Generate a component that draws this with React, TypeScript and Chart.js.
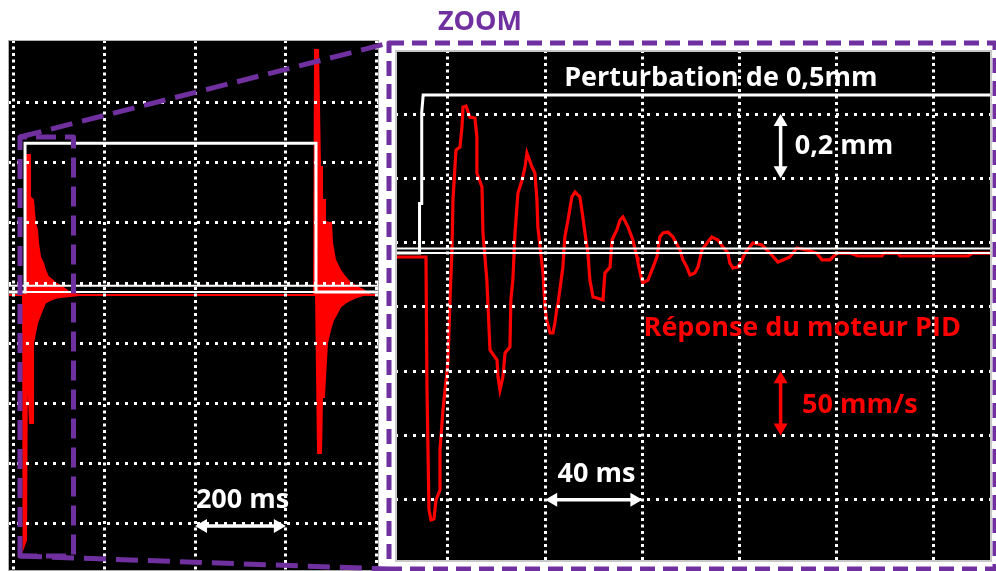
import React, { useEffect, useRef } from "react";
import { Chart, registerables } from "chart.js";
Chart.register(...registerables);

// ================= Full view (left panel) =================
// time in ms, white trace = position (mm, 0.2 mm/div), red trace = speed (mm/s, 50 mm/s/div)
const fullGridT = [0, 200, 400, 600, 800];
const fullGridMm = [-0.8, -0.6, -0.4, -0.2, 0, 0.2, 0.4, 0.6];
const fullRefMm = [-0.0093, -0.0299];
const fullRedBase = -10;
const fullWhiteT = [-11.7, 25.8, 25.8, 666.3, 666.3, 805];
const fullWhiteMm = [-0.0299, -0.0299, 0.464, 0.464, -0.0299, -0.0299];
const fullRedUpT = [-11.7, 25.8, 26.9, 36.8, 36.8, 43.4, 47.8, 52.2, 54.4, 58.8, 65.4, 69.8, 76.4, 85.2, 91.8, 107.2, 124.8, 146.8, 662.0, 664.2, 670.8, 675.2, 679.6, 679.6, 686.2, 686.2, 699.4, 701.6, 708.2, 719.2, 730.2, 741.2, 756.6, 769.8, 785.2, 805];
const fullRedUpV = [-10, -10, 106.3, 106.3, 71.4, 68.9, 49.8, 44.0, 33.2, 21.6, 16.6, 10.8, 5.0, 2.5, 0, -3.3, -8.3, -10, -10, 193.5, 193.5, 96.3, 96.3, 68.9, 68.9, 50.7, 49.8, 33.2, 19.1, 10.8, 5.0, 0, -3.3, -5.8, -10, -10];
const fullRedLowT = [-11.7, 21.4, 22.5, 28.0, 30.2, 36.8, 43.4, 43.4, 52.2, 63.2, 69.8, 80.8, 91.8, 102.8, 124.8, 146.8, 666.4, 670.8, 677.4, 679.6, 684.0, 686.2, 690.6, 697.2, 703.8, 712.6, 719.2, 730.2, 741.2, 756.6, 769.8, 805];
const fullRedLowV = [-10, -10, -219.3, -213.5, -55.7, -116.3, -116.3, -49.8, -33.2, -22.4, -16.6, -14.1, -12.5, -11.6, -10.8, -10, -10, -141.2, -141.2, -94.7, -94.7, -78.1, -49.8, -39.0, -30.7, -24.9, -19.9, -16.6, -14.1, -11.6, -10, -10];

// ================= Zoom (right panel) =================
const zoomGridT = [0, 40, 80, 120, 160, 200];
const zoomGridMm = [-0.8, -0.6, -0.4, -0.2, 0, 0.2, 0.4];
const zoomRefMm = [-0.0184, -0.0323];
const zoomWhiteT = [-21.8, -11.7, -11.7, -10.8, -10.8, -10.2, 223.9];
const zoomWhiteMm = [-0.0323, -0.0323, 0.122, 0.122, 0.406, 0.459, 0.459];
const zoomRedT = [-21.8, -9.05, -8.64, -7.82, -7.0, -5.76, -4.94, -3.29, -3.29, -2.06,
  0, 0.82, 1.65, 2.06, 3.29, 4.94, 5.76, 6.17, 7.41, 9.05,
  11.1, 11.9, 11.9, 14.0, 14.4, 16.0, 16.5, 17.3, 20.2, 20.6,
  21.4, 22.6, 23.5, 25.5, 25.9, 26.7, 27.6, 28.8, 30.5, 31.7,
  32.5, 34.6, 35.8, 36.6, 37.0, 37.9, 39.1, 39.9, 40.7, 42.0,
  43.2, 44.0, 44.9, 45.3, 47.3, 48.1, 49.4, 51.0, 52.3, 54.3,
  55.1, 56.4, 57.6, 58.4, 59.7, 61.3, 63.8, 64.6, 66.7, 67.5,
  69.5, 70.8, 72.0, 74.1, 76.1, 77.8, 78.2, 79.8, 80.2, 82.3,
  84.4, 86.0, 87.2, 88.5, 90.5, 92.6, 95.5, 96.7, 98.3, 99.6,
  101.6, 102.9, 104.5, 106.6, 108.6, 111.1, 113.2, 115.2, 116.0, 117.3,
  119.3, 121.0, 122.2, 125.5, 129.2, 132.5, 135.8, 137.9, 140.7, 143.6,
  147.7, 151.8, 153.9, 157.2, 160.1, 165.4, 168.7, 178.6, 179.4, 185.2,
  186.0, 197.5, 201.2, 214.0, 216.0, 223.9];
const zoomRedV = [-11.2, -11.2, -112.3, -207.9, -215.7, -214.9, -200.2, -192.4, -161.3, -130.2,
  -92.8, -44.6, -5.8, 33.1, 72.0, 74.3, 89.9, 105.4, 106.2, 97.7,
  96.9, 82.1, 54.1, 43.2, 7.5, -29.1, -50.1, -83.5, -91.3, -104.5,
  -114.6, -104.5, -85.8, -81.2, -44.6, -29.1, 7.5, 38.6, 48.7, 58.8,
  69.7, 58.8, 54.1, 33.1, 12.1, -3.4, -23.6, -50.1, -60.6, -70.3,
  -70.3, -62.5, -50.1, -47.0, -19.0, 4.4, 17.6, 35.5, 39.3, 35.5,
  25.3, 7.5, -8.1, -29.1, -42.3, -43.1, -44.6, -23.6, -19.0, 2.0,
  9.8, 17.6, 19.9, 12.1, 2.0, -11.2, -15.9, -29.1, -31.4, -29.1,
  -19.0, -11.2, 4.4, 7.5, 8.2, 4.4, -5.8, -13.5, -19.0, -25.2,
  -23.6, -19.0, -5.8, -0.3, 4.4, 2.0, -3.4, -8.1, -15.9, -19.8,
  -19.0, -13.5, -8.1, -0.3, -1.9, -8.1, -15.1, -13.5, -11.2, -4.2,
  -5.8, -8.1, -13.5, -13.5, -8.1, -8.1, -10.4, -10.4, -8.1, -8.1,
  -10.4, -10.4, -10.4, -10.4, -8.1, -8.1];

const WHITE = "#ffffff";
const RED = "#ff0000";
const PURPLE = "#7030a0";
const FONT = 'bold 27px "Open Sans", "DejaVu Sans", sans-serif';

const pts = (xs: number[], ys: number[]) => xs.map((x, i) => ({ x, y: ys[i] }));

type TextSpec = { text: string; t: number; v: number; axis: "y" | "y2"; color: string };
type ArrowSpec = { t1: number; v1: number; t2: number; v2: number; axis: "y" | "y2"; color: string };

function drawArrow(ctx: CanvasRenderingContext2D, x1: number, y1: number, x2: number, y2: number, color: string) {
  const hl = 12, hw = 14, w = 3.5;
  const dx = x2 - x1, dy = y2 - y1;
  const len = Math.hypot(dx, dy);
  const ux = dx / len, uy = dy / len, px = -uy, py = ux;
  ctx.save();
  ctx.strokeStyle = color;
  ctx.fillStyle = color;
  ctx.lineWidth = w;
  ctx.beginPath();
  ctx.moveTo(x1 + ux * hl * 0.8, y1 + uy * hl * 0.8);
  ctx.lineTo(x2 - ux * hl * 0.8, y2 - uy * hl * 0.8);
  ctx.stroke();
  const heads: [number, number, number][] = [[x1, y1, 1], [x2, y2, -1]];
  for (const [tx, ty, s] of heads) {
    ctx.beginPath();
    ctx.moveTo(tx, ty);
    ctx.lineTo(tx + s * ux * hl + (px * hw) / 2, ty + s * uy * hl + (py * hw) / 2);
    ctx.lineTo(tx + s * ux * hl - (px * hw) / 2, ty + s * uy * hl - (py * hw) / 2);
    ctx.closePath();
    ctx.fill();
  }
  ctx.restore();
}

function decoPlugin(texts: TextSpec[], arrows: ArrowSpec[], borderColor: string, borderWidth: number) {
  return {
    id: "panelDeco",
    beforeDraw(chart: any) {
      const ctx = chart.ctx;
      ctx.save();
      ctx.fillStyle = "#000";
      ctx.fillRect(0, 0, chart.width, chart.height);
      ctx.restore();
    },
    afterDraw(chart: any) {
      const ctx: CanvasRenderingContext2D = chart.ctx;
      const sx = chart.scales.x;
      for (const a of arrows) {
        const sy = chart.scales[a.axis];
        drawArrow(ctx, sx.getPixelForValue(a.t1), sy.getPixelForValue(a.v1), sx.getPixelForValue(a.t2), sy.getPixelForValue(a.v2), a.color);
      }
      ctx.save();
      ctx.font = FONT;
      ctx.textAlign = "center";
      ctx.textBaseline = "alphabetic";
      for (const t of texts) {
        const sy = chart.scales[t.axis];
        ctx.fillStyle = t.color;
        ctx.fillText(t.text, sx.getPixelForValue(t.t), sy.getPixelForValue(t.v));
      }
      ctx.restore();
      ctx.save();
      ctx.strokeStyle = borderColor;
      ctx.lineWidth = borderWidth;
      ctx.strokeRect(borderWidth / 2, borderWidth / 2, chart.width - borderWidth, chart.height - borderWidth);
      ctx.restore();
    },
  };
}

function makePanel(canvas: HTMLCanvasElement, o: {
  xMin: number; xMax: number; mmMin: number; mmMax: number; spMin: number; spMax: number;
  gridT: number[]; gridMm: number[]; datasets: any[]; texts: TextSpec[]; arrows: ArrowSpec[];
  borderColor: string; borderWidth: number;
}) {
  return new Chart(canvas, {
    type: "line",
    data: { datasets: o.datasets },
    options: {
      animation: false,
      responsive: false,
      devicePixelRatio: 1,
      layout: { padding: 0, autoPadding: false },
      events: [],
      elements: { point: { radius: 0 }, line: { tension: 0 } },
      plugins: { legend: { display: false }, tooltip: { enabled: false }, title: { display: false } },
      scales: {
        x: {
          type: "linear", min: o.xMin, max: o.xMax,
          afterBuildTicks: (s: any) => { s.ticks = o.gridT.map((v) => ({ value: v })); },
          ticks: { display: false },
          grid: { color: WHITE, lineWidth: 3, drawTicks: false, z: 1 },
          border: { display: false, dash: [3, 3.5] },
        },
        y: {
          type: "linear", min: o.mmMin, max: o.mmMax,
          afterBuildTicks: (s: any) => { s.ticks = o.gridMm.map((v) => ({ value: v })); },
          ticks: { display: false },
          grid: { color: WHITE, lineWidth: 3, drawTicks: false, z: 1 },
          border: { display: false, dash: [3, 6] },
        },
        y2: { type: "linear", display: false, min: o.spMin, max: o.spMax },
      },
    } as any,
    plugins: [decoPlugin(o.texts, o.arrows, o.borderColor, o.borderWidth)],
  });
}

function drawOverlay(c: HTMLCanvasElement) {
  const ctx = c.getContext("2d")!;
  ctx.clearRect(0, 0, c.width, c.height);
  ctx.save();
  ctx.strokeStyle = PURPLE;
  ctx.lineWidth = 5;
  ctx.lineJoin = "round";
  // zoom frame around the right panel
  ctx.setLineDash([15, 8]);
  ctx.strokeRect(389, 43, 606, 526);
  // zoomed region in the left panel
  ctx.setLineDash([20, 9]);
  ctx.beginPath();
  ctx.moveTo(20, 556);
  ctx.lineTo(20, 137);
  ctx.lineTo(73.5, 137);
  ctx.lineTo(73.5, 556);
  ctx.closePath();
  ctx.stroke();
  // connectors
  ctx.setLineDash([22, 10]);
  ctx.beginPath();
  ctx.moveTo(20, 137);
  ctx.lineTo(389, 43);
  ctx.moveTo(20, 556);
  ctx.lineTo(389, 569);
  ctx.stroke();
  ctx.restore();
  ctx.save();
  ctx.font = FONT;
  ctx.fillStyle = PURPLE;
  ctx.textAlign = "center";
  ctx.textBaseline = "alphabetic";
  ctx.fillText("ZOOM", 480, 29.6);
  ctx.restore();
}

export default function App() {
  const leftRef = useRef<HTMLCanvasElement>(null);
  const rightRef = useRef<HTMLCanvasElement>(null);
  const overRef = useRef<HTMLCanvasElement>(null);

  useEffect(() => {
    const lx = [-11.7, 805];
    const rx = [-21.8, 223.9];
    const left = makePanel(leftRef.current!, {
      xMin: lx[0], xMax: lx[1], mmMin: -0.9568, mmMax: 0.8073, spMin: -239.2, spMax: 201.8,
      gridT: fullGridT, gridMm: fullGridMm,
      datasets: [
        { label: "axe", data: pts(lx, [fullRefMm[0], fullRefMm[0]]), yAxisID: "y", borderColor: WHITE, borderWidth: 2, fill: false },
        { label: "référence", data: pts(lx, [fullRefMm[1], fullRefMm[1]]), yAxisID: "y", borderColor: WHITE, borderWidth: 2, fill: false },
        { label: "Perturbation", data: pts(fullWhiteT, fullWhiteMm), yAxisID: "y", borderColor: WHITE, borderWidth: 3, fill: false },
        { label: "Réponse (enveloppe haute)", data: pts(fullRedUpT, fullRedUpV), yAxisID: "y2", borderColor: RED, backgroundColor: RED, borderWidth: 2, fill: { value: fullRedBase } },
        { label: "Réponse (enveloppe basse)", data: pts(fullRedLowT, fullRedLowV), yAxisID: "y2", borderColor: RED, backgroundColor: RED, borderWidth: 2, fill: { value: fullRedBase } },
      ],
      texts: [{ text: "200 ms", t: 504.6, v: -186.6, axis: "y2", color: WHITE }],
      arrows: [{ t1: 400, v1: -0.807, t2: 600, v2: -0.807, axis: "y", color: WHITE }],
      borderColor: "#b0b0b0", borderWidth: 1,
    });
    const right = makePanel(rightRef.current!, {
      xMin: rx[0], xMax: rx[1], mmMin: -0.9935, mmMax: 0.5991, spMin: -248.4, spMax: 149.8,
      gridT: zoomGridT, gridMm: zoomGridMm,
      datasets: [
        { label: "axe", data: pts(rx, [zoomRefMm[0], zoomRefMm[0]]), yAxisID: "y", borderColor: WHITE, borderWidth: 2, fill: false },
        { label: "référence", data: pts(rx, [zoomRefMm[1], zoomRefMm[1]]), yAxisID: "y", borderColor: WHITE, borderWidth: 2, fill: false },
        { label: "Perturbation", data: pts(zoomWhiteT, zoomWhiteMm), yAxisID: "y", borderColor: WHITE, borderWidth: 3, fill: false },
        { label: "Réponse du moteur PID", data: pts(zoomRedT, zoomRedV), yAxisID: "y2", borderColor: RED, borderWidth: 3.2, fill: false },
      ],
      texts: [
        { text: "Perturbation de 0,5mm", t: 112.3, v: 0.4862, axis: "y", color: WHITE },
        { text: "0,2 mm", t: 163.0, v: 0.2768, axis: "y", color: WHITE },
        { text: "Réponse du moteur PID", t: 145.8, v: -72.3, axis: "y2", color: RED },
        { text: "50 mm/s", t: 169.5, v: -132.2, axis: "y2", color: RED },
        { text: "40 ms", t: 61.1, v: -185.8, axis: "y2", color: WHITE },
      ],
      arrows: [
        { t1: 136.9, v1: 0.4, t2: 136.9, v2: 0.2, axis: "y", color: WHITE },
        { t1: 136.9, v1: -100, t2: 136.9, v2: -150, axis: "y2", color: RED },
        { t1: 40, v1: -0.8, t2: 80, v2: -0.8, axis: "y", color: WHITE },
      ],
      borderColor: "#c8c8c8", borderWidth: 2,
    });
    drawOverlay(overRef.current!);
    return () => {
      left.destroy();
      right.destroy();
    };
  }, []);

  return (
    <div style={{ position: "absolute", left: 0, top: 0, width: 996, height: 571, background: "#fff", overflow: "hidden" }}>
      <canvas ref={leftRef} width={371} height={531} style={{ position: "absolute", left: 8, top: 40, width: 371, height: 531 }} />
      <canvas ref={rightRef} width={597} height={512} style={{ position: "absolute", left: 395, top: 50, width: 597, height: 512 }} />
      <canvas ref={overRef} width={996} height={571} style={{ position: "absolute", left: 0, top: 0, width: 996, height: 571, pointerEvents: "none" }} />
    </div>
  );
}
